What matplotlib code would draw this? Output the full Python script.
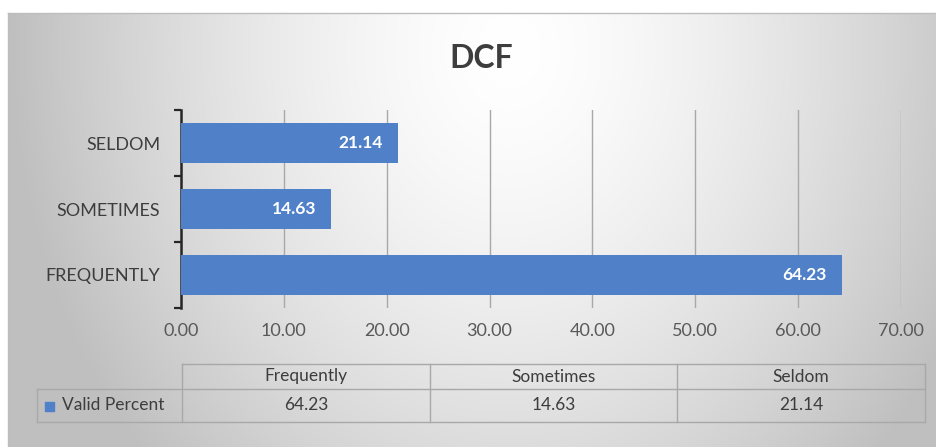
import matplotlib.pyplot as plt
import numpy as np

# data
categories = ["Frequently", "Sometimes", "Seldom"]
valid_percent = [64.23, 14.63, 21.14]
xticks = [0, 10, 20, 30, 40, 50, 60, 70]
series_name = "Valid Percent"
title = "DCF"

W, H = 936, 447
BLUE = "#5080c8"
TEXT = "#3d3d3d"
GRID = "#a8a8a8"

plt.rcParams['font.family'] = ['Lato', 'DejaVu Sans']

fig = plt.figure(figsize=(W / 100, H / 100), dpi=100)


def fx(px):
    return px / W


def fy(py):
    return 1 - py / H


# background: soft radial gradient like the spreadsheet chart area
bg = fig.add_axes([fx(8), 0, 1 - fx(8), fy(13)])
bg.set_axis_off()
xx, yy = np.meshgrid(np.linspace(8, W, 300), np.linspace(13, H, 150))
d = np.sqrt(((xx - 510) / 500) ** 2 + ((yy - 50) / 600) ** 2)
shade = 1 - 0.25 * np.clip(d, 0, 1) ** 1.5
bg.imshow(np.dstack([shade] * 3), extent=[0, 1, 0, 1], aspect='auto', zorder=0)
bg.set_xlim(0, 1)
bg.set_ylim(0, 1)

# frame lines of the chart object
fig.add_artist(plt.Line2D([fx(8), 1], [fy(13), fy(13)], color="#bdbdbd", lw=1))
fig.add_artist(plt.Line2D([fx(8), fx(8)], [0, fy(13)], color="#bdbdbd", lw=1))

# title
fig.text(fx(481), fy(58), title, ha='center', va='center', fontsize=23,
         fontweight='bold', color=TEXT)

# main bar axes
ax = fig.add_axes([fx(181), fy(308), fx(901) - fx(181), fy(110) - fy(308)])
ax.set_facecolor('none')
ypos = np.arange(len(categories))
ax.barh(ypos, valid_percent, height=0.6, color=BLUE, zorder=3)

for y, v in zip(ypos, valid_percent):
    ax.annotate(f"{v:.2f}", xy=(v, y), xytext=(-11, 0), textcoords='offset points',
                ha='right', va='center', color='white', fontsize=12.5,
                fontweight='bold', zorder=4)

ax.set_xlim(xticks[0], xticks[-1])
ax.set_ylim(-0.5, len(categories) - 0.5)
ax.set_xticks(xticks)
ax.set_xticklabels([f"{t:.2f}" for t in xticks])
ax.set_yticks(ypos)
ax.set_yticklabels([c.upper() for c in categories])
ax.set_yticks(np.arange(-0.5, len(categories)), minor=True)

ax.grid(axis='x', color=GRID, lw=1, zorder=1)
ax.tick_params(axis='x', length=0, pad=11, labelsize=13, labelcolor="#595959")
ax.tick_params(axis='y', which='major', length=0, pad=15, labelsize=13,
               labelcolor=TEXT)
ax.tick_params(axis='y', which='minor', length=5, width=1.6, color="#262626",
               direction='out')
for s in ['top', 'right', 'bottom']:
    ax.spines[s].set_visible(False)
ax.spines['left'].set_color("#262626")
ax.spines['left'].set_linewidth(1.8)

# data table under the chart
col_edges = np.linspace(182, 925, len(categories) + 1)
row_top, row_mid, row_bot = 364, 389, 422
label_left = 37
border = dict(color="#a8a8a8", lw=1)
fig.add_artist(plt.Line2D([fx(col_edges[0]), fx(col_edges[-1])], [fy(row_top)] * 2, **border))
fig.add_artist(plt.Line2D([fx(label_left), fx(col_edges[-1])], [fy(row_mid)] * 2, **border))
fig.add_artist(plt.Line2D([fx(label_left), fx(col_edges[-1])], [fy(row_bot)] * 2, **border))
fig.add_artist(plt.Line2D([fx(label_left)] * 2, [fy(row_mid), fy(row_bot)], **border))
for e in col_edges:
    fig.add_artist(plt.Line2D([fx(e)] * 2, [fy(row_top), fy(row_bot)], **border))

for i, (c, v) in enumerate(zip(categories, valid_percent)):
    cx = (col_edges[i] + col_edges[i + 1]) / 2
    fig.text(fx(cx), fy((row_top + row_mid) / 2), c, ha='center', va='center',
             fontsize=12.5, color=TEXT)
    fig.text(fx(cx), fy((row_mid + row_bot) / 2), f"{v:.2f}", ha='center',
             va='center', fontsize=12.5, color=TEXT)

fig.add_artist(plt.Rectangle((fx(45), fy(411)), fx(9), 9 / H, color=BLUE))
fig.text(fx(62), fy((row_mid + row_bot) / 2), series_name, ha='left', va='center',
         fontsize=12.5, color=TEXT)

fig.savefig("out.png", dpi=100)
